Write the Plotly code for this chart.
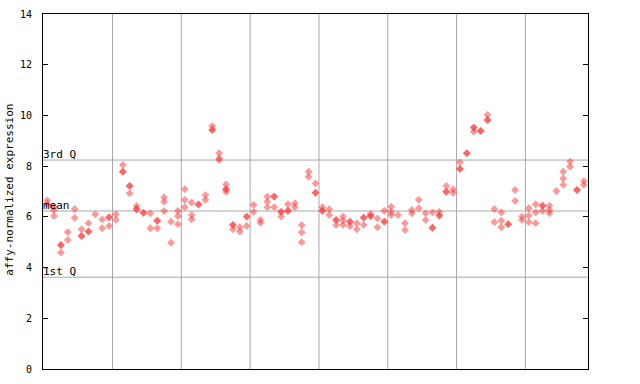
import plotly.graph_objects as go

# replicate expression values per sample (79 samples, 8 groups)
samples = [
    [6.65, 6.51], [6.39, 6.27, 6.03], [4.89, 4.89, 4.59], [5.40, 5.09], [6.31, 5.96],
    [5.51, 5.25, 5.25], [5.75, 5.42, 5.42], [6.10], [5.90, 5.55], [5.98, 5.98, 5.64],
    [6.10, 5.88], [8.05, 7.78, 7.78], [7.22, 7.22, 6.93], [6.43, 6.30, 6.30], [6.16, 6.16],
    [6.14, 5.55], [5.85, 5.85, 5.55], [6.77, 6.60, 6.23], [5.81, 4.98], [6.23, 6.03, 5.71],
    [7.09, 6.67, 6.38], [6.57, 6.07, 5.90], [6.49, 6.49], [6.86, 6.67], [9.58, 9.43, 9.43],
    [8.51, 8.31, 8.24], [7.28, 7.09, 7.09, 6.99], [5.68, 5.68, 5.51], [5.59, 5.42], [6.01, 6.01, 5.64],
    [6.47, 6.20], [5.88, 5.77], [6.80, 6.60, 6.38], [6.80, 6.80, 6.38], [6.20, 6.20, 6.01],
    [6.50, 6.24, 6.24], [6.54, 6.38], [5.67, 5.39, 5.00], [7.78, 7.58], [7.32, 6.95, 6.95],
    [6.38, 6.24, 6.24], [6.30, 6.07], [5.88, 5.88, 5.68], [6.01, 5.85, 5.68], [5.81, 5.81, 5.64],
    [5.75, 5.51], [5.97, 5.97, 5.68], [6.11, 6.03, 6.03], [5.94, 5.59], [6.24, 5.81, 5.81],
    [6.40, 6.20, 6.07], [6.07], [5.75, 5.48], [6.27, 6.14], [6.67, 6.34],
    [6.14, 5.88], [6.18, 5.57, 5.57], [6.20, 6.05, 6.05], [7.22, 6.99, 6.99], [7.09, 6.95],
    [8.15, 7.89, 7.89], [8.51, 8.51], [9.52, 9.52, 9.36], [9.39, 9.39], [10.02, 9.82, 9.82],
    [6.31, 5.79], [6.18, 5.85, 5.59], [5.71, 5.71], [7.06, 6.63], [6.01, 5.88],
    [6.34, 6.05, 5.79], [6.50, 6.18, 5.75], [6.44, 6.44, 6.24], [6.44, 6.27, 6.14], [7.02],
    [7.78, 7.52, 7.26], [8.18, 7.98], [7.06, 7.06], [7.41, 7.26],
]
group_bounds = [9.5, 19.5, 29.5, 39.5, 49.5, 59.5, 69.5]
q_lines = {"3rd Q": 8.24, "mean": 6.23, "1st Q": 3.62}
y_ticks = [0, 2, 4, 6, 8, 10, 12, 14]
y_title = "affy-normalized expression"

xs, ys = [], []
for i, reps in enumerate(samples):
    for v in reps:
        xs.append(i)
        ys.append(v)

fig = go.Figure()
fig.add_trace(go.Scatter(
    x=xs, y=ys, mode="markers",
    marker=dict(symbol="diamond", size=6, color="rgba(255,50,50,0.5)", line=dict(width=0)),
    hoverinfo="skip", showlegend=False,
))

shapes = []
for b in group_bounds:
    shapes.append(dict(type="line", xref="x", yref="paper", x0=b, x1=b, y0=0, y1=1,
                       line=dict(color="#a8a8a8", width=1), layer="below"))
annotations = []
for name, v in q_lines.items():
    shapes.append(dict(type="line", xref="paper", yref="y", x0=0, x1=1, y0=v, y1=v,
                       line=dict(color="#a8a8a8", width=1), layer="below"))
    annotations.append(dict(text=name, xref="paper", yref="y", x=0.0, y=v, xanchor="left",
                            yanchor="bottom", showarrow=False, yshift=-3, xshift=-2,
                            font=dict(family="DejaVu Sans Mono", size=11, color="black")))
annotations.append(dict(text=y_title, xref="paper", yref="paper", x=0, y=0.505,
                        xanchor="center", yanchor="middle", xshift=-33, textangle=-90,
                        showarrow=False,
                        font=dict(family="DejaVu Sans Mono", size=11, color="black")))

fig.update_layout(
    width=640, height=384,
    margin=dict(l=43, r=52, t=14, b=15, autoexpand=False),
    paper_bgcolor="white", plot_bgcolor="white",
    shapes=shapes, annotations=annotations,
    xaxis=dict(range=[-0.6, 78.6], showgrid=False, zeroline=False, showticklabels=False,
               ticks="", showline=True, linecolor="black", linewidth=1, mirror=True,
               automargin=False),
    yaxis=dict(range=[0, 14], tickvals=y_ticks, ticks="inside", ticklen=5, tickcolor="black",
               showgrid=False, zeroline=False, showline=True, linecolor="black", linewidth=1,
               mirror="ticks", ticklabelstandoff=8, automargin=False,
               tickfont=dict(family="DejaVu Sans Mono", size=10, color="black")),
)
fig.write_html("out.html")
